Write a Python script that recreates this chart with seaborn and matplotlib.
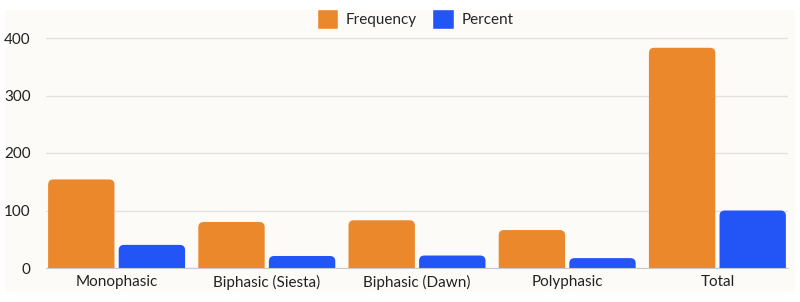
import matplotlib
matplotlib.use("Agg")
import matplotlib.pyplot as plt
from matplotlib.patches import FancyBboxPatch, Rectangle
import seaborn as sns
import pandas as pd

categories = ["Monophasic", "Biphasic (Siesta)", "Biphasic (Dawn)", "Polyphasic", "Total"]
frequency = [154, 80, 83, 66, 383]
percent = [40.2, 20.9, 21.7, 17.2, 100]
series = ["Frequency", "Percent"]
colors = ["#EB882C", "#2354F5"]

df = pd.DataFrame({
    "category": categories * 2,
    "value": frequency + percent,
    "series": [series[0]] * len(categories) + [series[1]] * len(categories),
})

sns.set_style("white")
plt.rcParams["font.family"] = ["Lato", "DejaVu Sans"]

fig = plt.figure(figsize=(8, 3.02), dpi=100, facecolor="white")
bg = "#FCFBF8"
fig.patches.append(Rectangle((5 / 800, 10 / 302), 790 / 800, 282 / 302,
                             transform=fig.transFigure, facecolor=bg,
                             edgecolor="none", zorder=-10))
ax = fig.add_axes([46 / 800, 1 - 268 / 302, 742 / 800, 253 / 302])
ax.set_facecolor("none")

sns.barplot(data=df, x="category", y="value", hue="series", palette=colors,
            width=0.94, gap=0.06, saturation=1, ax=ax, legend=False)

ax.set_ylim(0, 440)
ax.set_xlim(-0.47, len(categories) - 0.53)

# swap square bars for rounded ones
px_per_unit_y = 253 / 440
px_per_unit_x = 742 / (len(categories) - 0.06)
aspect = px_per_unit_x / px_per_unit_y
old = list(ax.patches)
for p in old:
    x, y = p.get_x(), p.get_y()
    w, h = p.get_width(), p.get_height()
    fc = p.get_facecolor()
    p.remove()
    r = 0.035
    box = FancyBboxPatch((x, y - 30), w, h + 30,
                         boxstyle=f"round,pad=0,rounding_size={r}",
                         mutation_aspect=aspect, facecolor=fc,
                         edgecolor="none", zorder=3, clip_on=True)
    ax.add_patch(box)

ax.set_yticks([0, 100, 200, 300, 400])
ax.yaxis.grid(True, color="#E4E2DF", linewidth=1)
ax.set_axisbelow(True)
for s in ["left", "right", "top"]:
    ax.spines[s].set_visible(False)
ax.spines["bottom"].set_color("#C9C9C9")
ax.spines["bottom"].set_zorder(4)
ax.tick_params(axis="both", length=0, labelsize=11, colors="#222222")
ax.tick_params(axis="y", pad=11)
ax.tick_params(axis="x", pad=5)
ax.set_xlabel("")
ax.set_ylabel("")

handles = [Rectangle((0, 0), 1, 1, facecolor=c) for c in colors]
fig.legend(handles, series, loc="center", bbox_to_anchor=(415 / 800, 1 - 19 / 302),
           ncol=2, frameon=False, fontsize=11, handlelength=1.4, handleheight=1.6,
           handletextpad=0.5, columnspacing=1.0)

fig.savefig("out.png", dpi=100, facecolor="white")
